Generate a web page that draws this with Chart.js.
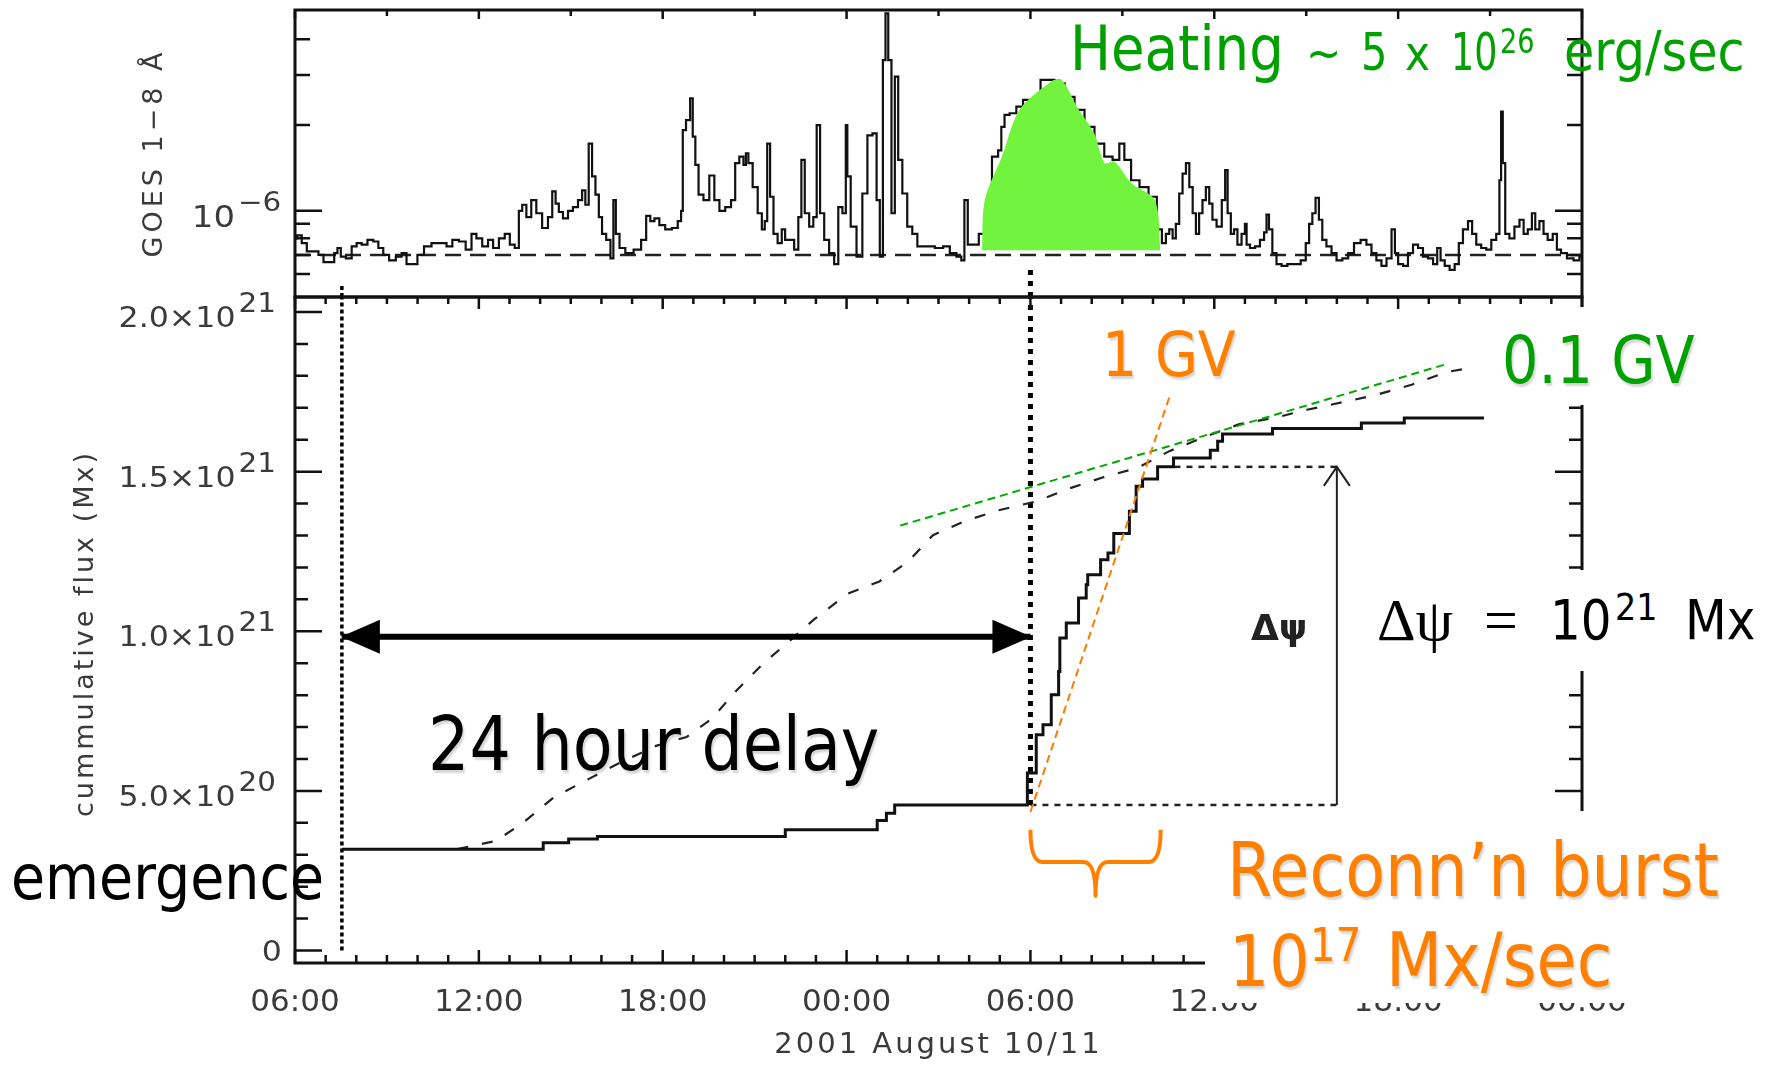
<!DOCTYPE html>
<html>
<head>
<meta charset="utf-8">
<script src="https://cdn.jsdelivr.net/npm/chart.js@4.4.1/dist/chart.umd.min.js"></script>
<style>
  html, body { margin: 0; padding: 0; background: #fff; }
  body { width: 1785px; height: 1065px; position: relative; overflow: hidden; }
  canvas { position: absolute; left: 0; }
  #goesCanvas { top: 0; }
  #fluxCanvas { top: 280px; }
  .note { position: absolute; white-space: nowrap; line-height: 1; transform-origin: 0 0; }
  .box { position: absolute; background: #fff; }
</style>
</head>
<body>
<canvas id="goesCanvas" width="1785" height="300" style="width:1785px;height:300px"></canvas>
<canvas id="fluxCanvas" width="1785" height="785" style="width:1785px;height:785px"></canvas>
<script>
// hours after 2001-08-10 06:00 UT
const goesHours = [
  0.0,0.14,0.30,0.47,0.68,0.85,1.01,1.23,1.33,1.44,1.55,1.77,1.93,2.09,2.26,2.47,2.64,2.80,2.96,3.18,
  3.40,3.56,3.72,3.89,4.10,4.32,4.59,4.86,5.03,5.24,5.46,5.68,5.84,6.00,6.22,6.38,6.55,6.76,6.93,7.09,
  7.25,7.36,7.47,7.63,7.79,7.96,8.17,8.34,8.45,8.56,8.66,8.83,8.99,9.15,9.32,9.42,9.53,9.64,9.75,9.86,
  9.97,10.07,10.24,10.35,10.43,10.51,10.67,10.89,11.21,11.38,11.54,11.65,11.81,11.97,12.19,12.41,12.57,12.63,12.68,12.84,
  12.95,13.01,13.12,13.22,13.44,13.60,13.77,13.93,14.15,14.31,14.42,14.58,14.69,14.74,14.85,15.02,15.18,15.29,15.37,15.45,
  15.56,15.67,15.83,15.94,16.05,16.21,16.37,16.48,16.57,16.70,16.86,16.97,17.08,17.19,17.35,17.51,17.68,17.78,17.95,18.00,
  18.05,18.22,18.43,18.60,18.76,18.93,19.03,19.14,19.23,19.31,19.41,19.52,19.63,19.74,19.90,20.06,20.23,20.39,20.72,21.04,
  21.26,21.48,21.69,21.80,21.89,22.02,22.23,22.40,22.60,22.89,23.00,23.10,23.21,23.43,23.65,23.87,24.03,24.63,24.95,25.28,
  25.60,25.93,26.25,26.57,26.79,27.01,27.12,27.45,27.67,28.04,28.21,28.37,28.47,28.59,28.69,28.80,28.91,29.02,29.13,29.24,
  29.35,29.45,29.56,29.67,29.78,29.89,29.99,30.16,30.33,30.38,30.49,30.59,30.70,30.81,30.97,31.03,31.08,31.25,31.41,31.57,
  31.68,31.73,31.84,31.95,32.11,32.28,32.49,32.71,32.93,33.04,33.15,33.25,33.36,33.47,33.58,33.74,33.91,34.07,34.29,34.45,
  34.67,34.88,35.05,35.21,35.37,35.54,35.70,35.87,35.92,36.08,36.24,36.40,36.57,36.73,36.89,37.06,37.22,37.33,37.44,37.60,
  37.76,37.93,38.03,38.20,38.36,38.47,38.63,38.79,38.96,39.12,39.28,39.33,39.39,39.44,39.55,39.71,39.88,40.04,40.15,40.31,
  40.42,40.53,40.69,40.80,40.96,41.13,41.23,41.40,41.62,41.83,42.0
];
// GOES 1-8 A flux, units of 1e-6 W/m^2
const goesFlux = [
  0.80,0.82,0.77,0.72,0.72,0.70,0.66,0.66,0.71,0.74,0.69,0.68,0.75,0.77,0.76,0.79,0.78,0.74,0.70,0.67,
  0.69,0.71,0.65,0.65,0.70,0.75,0.77,0.77,0.75,0.79,0.78,0.73,0.83,0.80,0.75,0.79,0.74,0.80,0.83,0.76,
  0.74,1.00,1.05,0.95,1.09,0.98,0.87,0.95,1.17,1.06,0.99,0.94,1.00,1.03,1.09,1.18,1.05,1.72,1.32,1.14,
  0.95,0.83,0.79,0.68,1.09,0.83,0.74,0.71,0.73,0.79,0.96,0.92,0.94,0.89,0.86,0.87,0.92,1.00,1.92,2.08,
  2.48,1.82,1.45,1.14,1.09,1.33,1.09,1.00,1.03,1.09,1.47,1.55,1.45,1.59,1.47,1.21,0.98,0.86,0.92,1.72,
  1.12,0.83,0.77,0.86,0.79,0.79,0.73,0.95,1.51,0.98,0.88,0.95,2.00,0.98,0.79,0.71,0.65,1.03,0.98,2.00,
  1.32,0.88,0.69,1.15,1.84,1.87,1.09,0.69,3.38,4.93,3.38,0.98,2.96,1.51,1.15,0.88,0.83,0.75,0.75,0.74,
  0.75,0.71,0.69,0.67,1.09,0.76,0.76,0.83,0.78,1.55,1.63,1.97,2.17,2.20,2.32,2.45,2.32,2.88,2.80,2.51,
  2.26,1.97,1.72,1.55,1.51,1.72,1.51,1.28,1.21,1.12,0.86,0.77,0.83,0.86,0.80,0.90,1.15,1.35,1.47,1.21,
  0.98,0.83,0.98,1.09,1.21,1.06,0.93,0.88,1.09,1.39,0.98,0.83,0.86,0.76,0.83,0.90,0.76,0.74,0.75,0.79,
  0.84,0.97,0.86,0.71,0.65,0.64,0.65,0.65,0.67,0.77,0.90,0.98,1.11,0.93,0.79,0.75,0.71,0.67,0.68,0.71,
  0.77,0.79,0.76,0.71,0.67,0.64,0.68,0.86,0.71,0.65,0.64,0.71,0.76,0.74,0.69,0.68,0.65,0.74,0.67,0.64,
  0.62,0.65,0.77,0.86,0.92,0.83,0.76,0.74,0.73,0.79,0.83,1.28,2.23,1.47,0.83,0.80,0.88,0.93,0.83,0.86,
  0.98,0.86,0.92,0.83,0.79,0.83,0.73,0.71,0.68,0.67,0.69
];
const goesBackground = 0.7;

// green "heating" patch painted over the GOES peak
const heatHours = [22.42,22.51,23.07,23.64,24.67,25.01,25.52,26.08,26.42,26.74,27.30,28.06,28.24];
const heatFlux  = [0.727,1.09,1.55,2.26,2.84,2.89,2.32,1.87,1.47,1.49,1.25,1.09,0.727];

// cumulative reconnected flux (solid steps), units of 1e21 Mx
const fluxHours = [1.53,8.1,8.93,9.87,16.0,19.0,19.3,19.57,23.9,24.19,24.41,24.68,24.92,24.96,25.17,25.57,25.82,25.87,26.29,26.53,26.72,27.23,27.45,27.66,28.15,28.67,29.87,30.11,30.27,31.9,34.8,36.2,38.8];
const fluxCum   = [0.317,0.338,0.349,0.357,0.378,0.407,0.430,0.456,0.556,0.676,0.707,0.801,0.874,0.979,1.026,1.104,1.146,1.177,1.224,1.245,1.306,1.376,1.454,1.477,1.515,1.543,1.567,1.595,1.618,1.635,1.652,1.668,1.668];
// emerged flux (dashed)
const totalHours = [5.3,6.55,7.45,8.45,9.44,10.41,11.78,12.78,13.59,14.40,15.27,16.02,16.95,18.02,19.07,20.01,20.82,21.88,23.0,24.2,25.35,26.4,27.5,28.55,29.8,30.8,32.03,33.03,34.17,35.31,36.44,37.58,38.5];
const totalCum   = [0.318,0.343,0.401,0.480,0.530,0.579,0.641,0.669,0.725,0.814,0.898,0.960,1.038,1.117,1.156,1.218,1.301,1.346,1.380,1.407,1.450,1.483,1.512,1.565,1.613,1.648,1.670,1.694,1.717,1.741,1.772,1.812,1.827];

// rate lines
const oneGvHours = [24.0, 28.55];
const oneGvFlux = [0.434, 1.738];
const tenthGvHours = [19.75, 37.62];
const tenthGvFlux = [1.331, 1.838];

const emergenceHour = 1.53;
const burstHour = 24.0;
const delayFlux = 0.983;
const dpsiHour = 34.0;
const dpsiLow = 0.456;
const dpsiHigh = 1.515;
const dpsiTopStart = 28.7;
const braceHours = [24.0, 28.25];
const braceFlux = [0.378, 0.277, 0.172];

const timeLabels = ['06:00','12:00','18:00','00:00','06:00','12:00','18:00','00:00'];
const labelHours = [0, 6, 12, 18, 24, 30, 36, 42];
const fluxTicks = [0, 0.5, 1.0, 1.5, 2.0];
const fluxTickText = ['0', '5.0\u00d710', '1.0\u00d710', '1.5\u00d710', '2.0\u00d710'];
const fluxTickExp = ['', '20', '21', '21', '21'];
const goesMinorTicks = [0.6, 0.7, 0.8, 0.9, 2, 3, 4];

const GREEN = '#00a000';
const ORANGE = '#ff8000';
const FONT = '"DejaVu Sans"';
const AXIS_INK = '#3a3a3a';

const pts = (xs, ys) => xs.map((x, i) => ({ x: x, y: ys[i] }));
const range = (a, b, s) => { const out = []; for (let v = a; v <= b + 1e-9; v += s) out.push(+v.toFixed(3)); return out; };

// inward IDL-style ticks and box
function makeFrame(xTicks, yTicks) {
  return {
    id: 'frame',
    afterDatasetsDraw(chart) {
      const { ctx, chartArea: a, scales } = chart;
      ctx.save();
      ctx.strokeStyle = '#111';
      ctx.lineWidth = 3;
      ctx.strokeRect(a.left, a.top, a.right - a.left, a.bottom - a.top);
      ctx.lineWidth = 2.5;
      ctx.beginPath();
      xTicks.forEach(t => {
        const px = scales.x.getPixelForValue(t.v);
        if (t.top) { ctx.moveTo(px, a.top); ctx.lineTo(px, a.top + t.top); }
        if (t.bottom) { ctx.moveTo(px, a.bottom); ctx.lineTo(px, a.bottom - t.bottom); }
      });
      yTicks.forEach(t => {
        const py = scales.y.getPixelForValue(t.v);
        ctx.moveTo(a.left, py); ctx.lineTo(a.left + t.len, py);
        ctx.moveTo(a.right, py); ctx.lineTo(a.right - t.len, py);
      });
      ctx.stroke();
      ctx.restore();
    }
  };
}

// IDL vector font is wide: stretch DejaVu horizontally
const STRETCH = 1.13;
function wideText(ctx, text, x, y, size) {
  ctx.save();
  ctx.font = size + 'px ' + FONT;
  ctx.translate(x, y);
  ctx.scale(STRETCH, 1);
  ctx.fillText(text, 0, 0);
  ctx.restore();
}
function wideWidth(ctx, text, size) {
  ctx.font = size + 'px ' + FONT;
  return ctx.measureText(text).width * STRETCH;
}
function supLabel(ctx, base, exp, rightX, baseY, supY) {
  const wb = wideWidth(ctx, base, 28);
  const we = exp ? wideWidth(ctx, exp, 26) : 0;
  const x0 = rightX - we - (exp ? 3 : 0) - wb;
  wideText(ctx, base, x0, baseY, 28);
  if (exp) wideText(ctx, exp, x0 + wb + 3, supY, 26);
}

function spacedText(ctx, text, x, y, font, spacing, rotate) {
  ctx.save();
  ctx.translate(x, y);
  if (rotate) ctx.rotate(-Math.PI / 2);
  ctx.font = font;
  ctx.letterSpacing = spacing + 'px';
  ctx.textAlign = 'center';
  ctx.textBaseline = 'middle';
  ctx.fillText(text, spacing / 2, 0);
  ctx.restore();
}

const arrowHeads = {
  id: 'arrowHeads',
  afterDatasetsDraw(chart) {
    const ctx = chart.ctx;
    chart.data.datasets.forEach((ds, i) => {
      if (!ds.heads) return;
      const p = chart.getDatasetMeta(i).data;
      ds.heads.forEach(h => {
        const tip = h.at === 'start' ? p[0] : p[p.length - 1];
        const from = h.at === 'start' ? p[1] : p[p.length - 2];
        const ang = Math.atan2(tip.y - from.y, tip.x - from.x);
        ctx.save();
        ctx.translate(tip.x, tip.y);
        ctx.rotate(ang);
        ctx.beginPath();
        if (h.open) {
          ctx.moveTo(-h.len, -h.half); ctx.lineTo(0, 0); ctx.lineTo(-h.len, h.half);
          ctx.strokeStyle = ds.borderColor; ctx.lineWidth = 2; ctx.stroke();
        } else {
          ctx.moveTo(1, 0); ctx.lineTo(-h.len, -h.half); ctx.lineTo(-h.len, h.half); ctx.closePath();
          ctx.fillStyle = ds.borderColor; ctx.fill();
        }
        ctx.restore();
      });
    });
  }
};

const brace = {
  id: 'brace',
  afterDatasetsDraw(chart) {
    const { ctx, scales: { x, y } } = chart;
    const x0 = x.getPixelForValue(braceHours[0]);
    const x1 = x.getPixelForValue(braceHours[1]);
    const xm = (x0 + x1) / 2;
    const yt = y.getPixelForValue(braceFlux[0]);
    const ym = y.getPixelForValue(braceFlux[1]);
    const yb = y.getPixelForValue(braceFlux[2]);
    const r = 12;
    ctx.save();
    ctx.strokeStyle = ORANGE;
    ctx.lineWidth = 4;
    ctx.lineJoin = 'round';
    ctx.beginPath();
    ctx.moveTo(x0, yt);
    ctx.quadraticCurveTo(x0, ym, x0 + r, ym);
    ctx.lineTo(xm - r, ym);
    ctx.quadraticCurveTo(xm, ym, xm, yb);
    ctx.quadraticCurveTo(xm, ym, xm + r, ym);
    ctx.lineTo(x1 - r, ym);
    ctx.quadraticCurveTo(x1, ym, x1, yt);
    ctx.stroke();
    ctx.restore();
  }
};

const goesText = {
  id: 'goesText',
  afterDraw(chart) {
    const { ctx, scales: { y } } = chart;
    ctx.save();
    ctx.fillStyle = AXIS_INK;
    ctx.textBaseline = 'alphabetic';
    const py = y.getPixelForValue(1);
    const w = wideWidth(ctx, '10', 30);
    wideText(ctx, '10', 235 - w, py + 16, 30);
    wideText(ctx, '\u22126', 238, py, 26);
    spacedText(ctx, 'GOES 1\u22128 \u00c5', 155, 155, '27px ' + FONT, 4, true);
    ctx.restore();
  }
};

const fluxText = {
  id: 'fluxText',
  afterDraw(chart) {
    const { ctx, scales: { y } } = chart;
    ctx.save();
    ctx.fillStyle = AXIS_INK;
    ctx.textBaseline = 'alphabetic';
    fluxTicks.forEach((v, i) => {
      const py = y.getPixelForValue(v);
      if (fluxTickExp[i]) {
        supLabel(ctx, fluxTickText[i], fluxTickExp[i], 276, py + 15, py);
      } else {
        const w = wideWidth(ctx, fluxTickText[i], 28);
        wideText(ctx, fluxTickText[i], 282 - w, py + 10, 28);
      }
    });
    spacedText(ctx, 'cummulative flux (Mx)', 86, 355, '27px ' + FONT, 3, true);
    spacedText(ctx, '2001 August 10/11', 937, 765, '29px ' + FONT, 3, false);
    ctx.restore();
  }
};

const baseOptions = (pad) => ({
  responsive: false,
  animation: false,
  events: [],
  layout: { padding: pad },
  plugins: { legend: { display: false }, tooltip: { enabled: false } },
  elements: { point: { radius: 0 }, line: { tension: 0 } }
});

// ---- top panel: GOES ----
const goesOpts = baseOptions({ left: 295, right: 203, top: 10, bottom: 3 });
goesOpts.scales = {
  x: { type: 'linear', min: 0, max: 42, display: false },
  y: { type: 'logarithmic', min: 0.498, max: 5.07, display: false }
};
new Chart(document.getElementById('goesCanvas'), {
  type: 'line',
  data: {
    datasets: [
      { data: pts(heatHours, heatFlux), fill: { value: 0.727 }, backgroundColor: '#72f43e', borderWidth: 0, tension: 0.3 },
      { data: pts(goesHours, goesFlux), borderColor: '#111', borderWidth: 2.2, stepped: 'middle' },
      { data: pts([0, 42], [goesBackground, goesBackground]), borderColor: '#222', borderWidth: 2.5, borderDash: [16, 9] },
      { data: pts([burstHour, burstHour], [0.498, 0.635]), borderColor: '#000', borderWidth: 5, borderDash: [5, 6] },
      { data: pts([emergenceHour, emergenceHour], [0.498, 0.545]), borderColor: '#000', borderWidth: 3.5, borderDash: [4, 3] }
    ]
  },
  options: goesOpts,
  plugins: [
    makeFrame(range(0, 42, 3).map(v => ({ v: v, top: v % 6 === 0 ? 9 : 6 })),
      [{ v: 1, len: 27 }].concat(goesMinorTicks.map(v => ({ v: v, len: 15 })))),
    goesText
  ]
});

// ---- bottom panel: cumulative flux ----
const fluxOpts = baseOptions({ left: 295, right: 203, top: 17, bottom: 2 });
fluxOpts.scales = {
  x: {
    type: 'linear', min: 0, max: 42, position: 'bottom',
    afterFit: (s) => { s.height = 100; },
    afterBuildTicks: (s) => { s.ticks = labelHours.map(v => ({ value: v })); },
    grid: { display: false, drawTicks: false },
    border: { display: false },
    ticks: {
      autoSkip: false, maxRotation: 0, padding: 21, color: AXIS_INK,
      font: { family: 'DejaVu Sans', size: 31 },
      callback: (v) => timeLabels[Math.round(v / 6)]
    }
  },
  y: { type: 'linear', min: -0.039, max: 2.047, display: false }
};
new Chart(document.getElementById('fluxCanvas'), {
  type: 'line',
  data: {
    datasets: [
      { data: pts([emergenceHour, burstHour], [delayFlux, delayFlux]), borderColor: '#000', borderWidth: 6,
        heads: [{ at: 'start', len: 38, half: 17 }, { at: 'end', len: 38, half: 17 }] },
      { data: pts(oneGvHours, oneGvFlux), borderColor: '#ff7a00', borderWidth: 2, borderDash: [8, 5] },
      { data: pts(tenthGvHours, tenthGvFlux), borderColor: '#00a800', borderWidth: 2, borderDash: [8, 5] },
      { data: pts(fluxHours, fluxCum), borderColor: '#111', borderWidth: 3, stepped: 'before' },
      { data: pts(totalHours, totalCum), borderColor: '#222', borderWidth: 2.2, borderDash: [11, 14] },
      { data: pts([emergenceHour, emergenceHour], [0, 2.1]), borderColor: '#000', borderWidth: 3.5, borderDash: [4, 3] },
      { data: pts([burstHour, burstHour], [dpsiLow, 2.1]), borderColor: '#000', borderWidth: 5, borderDash: [5, 6] },
      { data: pts([burstHour, dpsiHour], [dpsiLow, dpsiLow]), borderColor: '#222', borderWidth: 2.5, borderDash: [6, 6] },
      { data: pts([dpsiTopStart, dpsiHour], [dpsiHigh, dpsiHigh]), borderColor: '#222', borderWidth: 2.5, borderDash: [6, 6] },
      { data: pts([dpsiHour, dpsiHour], [dpsiLow, dpsiHigh]), borderColor: '#222', borderWidth: 2,
        heads: [{ at: 'end', len: 19, half: 13, open: true }] }
    ]
  },
  options: fluxOpts,
  plugins: [
    makeFrame(range(0, 42, 1).map(v => ({ v: v, top: v % 6 === 0 ? 12 : 7, bottom: v % 6 === 0 ? 13 : 8 })),
      range(0, 2, 0.1).map(v => ({ v: v, len: Math.abs(v * 2 - Math.round(v * 2)) < 1e-6 ? 27 : 13 }))),
    arrowHeads, brace, fluxText
  ]
});

// ---- slide annotations ----
function box(left, top, w, h) {
  const d = document.createElement('div');
  d.className = 'box';
  Object.assign(d.style, { left: left + 'px', top: top + 'px', width: w + 'px', height: h + 'px' });
  document.body.appendChild(d);
}
function note(html, left, baseline, size, color, extra) {
  const o = Object.assign({ sx: 0.88, family: '"DejaVu Sans", sans-serif', asc: 0.846, weight: 'normal', shadow: false }, extra || {});
  const d = document.createElement('div');
  d.className = 'note';
  d.innerHTML = html;
  Object.assign(d.style, {
    left: left + 'px', top: (baseline - o.asc * size) + 'px', fontSize: size + 'px', color: color,
    fontFamily: o.family, fontWeight: o.weight, transform: 'scaleX(' + o.sx + ')'
  });
  if (o.shadow) d.style.textShadow = '2px 3px 2px rgba(0,0,0,0.16)';
  document.body.appendChild(d);
}
const serif = { family: '"Liberation Serif", serif', asc: 0.8375, sx: 1 };

box(1480, 307, 225, 98);
box(1368, 570, 405, 101);
box(1205, 811, 580, 192);

note('Heating', 1070, 70, 62, GREEN);
note('~', 1306, 70, 48, GREEN);
note('5', 1361, 70, 52, GREEN, { sx: 0.8 });
note('x', 1405, 70, 48, GREEN);
note('10', 1451, 70, 52, GREEN, { sx: 0.7 });
note('26', 1500, 53, 34, GREEN, { sx: 0.8 });
note('erg/sec', 1564, 70, 56, GREEN);

note('1 GV', 1102, 376, 63, ORANGE, { shadow: true });
note('0.1 GV', 1502, 383, 65, GREEN, { shadow: true });

note('\u0394\u03c8', 1377, 640, 60, '#000', serif);
note('=', 1484, 640, 60, '#000', serif);
note('10', 1550, 640, 55, '#000');
note('21', 1615, 620, 38, '#000');
note('Mx', 1685, 640, 55, '#000');
note('\u0394\u03c8', 1251, 640, 36, '#222', { weight: 'bold', sx: 1 });

note('24 hour delay', 428, 770, 74, '#000', { shadow: true });
note('emergence', 11, 899, 63, '#000');

note('Reconn\u2019n burst', 1227, 896, 74, ORANGE, { shadow: true });
note('10', 1229, 986, 72, ORANGE, { shadow: true });
note('17', 1310, 961, 46, ORANGE, { shadow: true });
note('Mx/sec', 1386, 986, 74, ORANGE, { shadow: true });
</script>
</body>
</html>
